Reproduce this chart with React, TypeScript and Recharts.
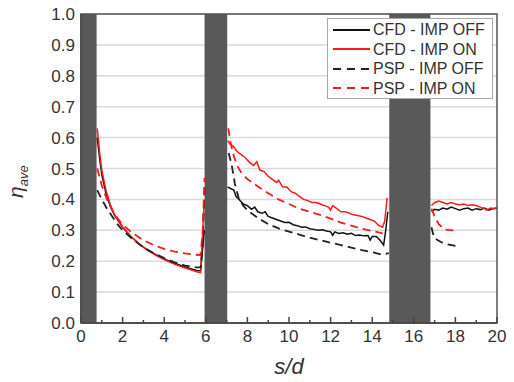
import { CartesianGrid, Legend, Line, LineChart, ReferenceArea, XAxis, YAxis } from 'recharts'

type Pt = { s: number; eta: number | null }

// s/d positions of the dark (hole) bands
const BANDS: [number, number][] = [
  [0, 0.75],
  [5.94, 7.03],
  [14.82, 16.8],
]

const X_TICKS = [0, 1, 2, 3, 4, 5, 6, 7, 8, 9, 10, 11, 12, 13, 14, 15, 16, 17, 18, 19, 20]
const Y_TICKS = [0, 0.1, 0.2, 0.3, 0.4, 0.5, 0.6, 0.7, 0.8, 0.9, 1.0]

const SERIES_NAMES = ['CFD - IMP OFF', 'CFD - IMP ON', 'PSP - IMP OFF', 'PSP - IMP ON']

const cfdOff: Pt[] = [
  { s: 0.78, eta: 0.6 }, { s: 0.9, eta: 0.53 }, { s: 1.0, eta: 0.48 }, { s: 1.2, eta: 0.42 },
  { s: 1.4, eta: 0.38 }, { s: 1.6, eta: 0.35 }, { s: 1.8, eta: 0.33 }, { s: 2.0, eta: 0.31 },
  { s: 2.4, eta: 0.28 }, { s: 2.8, eta: 0.255 }, { s: 3.2, eta: 0.236 }, { s: 3.6, eta: 0.221 },
  { s: 4.0, eta: 0.207 }, { s: 4.4, eta: 0.196 }, { s: 4.8, eta: 0.186 }, { s: 5.2, eta: 0.177 },
  { s: 5.6, eta: 0.169 }, { s: 5.75, eta: 0.17 }, { s: 5.93, eta: 0.3 },
  { s: 6.5, eta: null },
  { s: 7.05, eta: 0.44 }, { s: 7.2, eta: 0.435 }, { s: 7.35, eta: 0.43 }, { s: 7.45, eta: 0.41 },
  { s: 7.6, eta: 0.4 }, { s: 7.8, eta: 0.385 }, { s: 8.0, eta: 0.38 }, { s: 8.2, eta: 0.368 },
  { s: 8.35, eta: 0.375 }, { s: 8.5, eta: 0.36 }, { s: 8.7, eta: 0.355 }, { s: 8.85, eta: 0.36 },
  { s: 9.0, eta: 0.345 }, { s: 9.2, eta: 0.34 }, { s: 9.4, eta: 0.335 }, { s: 9.6, eta: 0.33 },
  { s: 9.8, eta: 0.325 }, { s: 10.0, eta: 0.326 }, { s: 10.2, eta: 0.318 }, { s: 10.4, eta: 0.315 },
  { s: 10.6, eta: 0.31 }, { s: 10.8, eta: 0.311 }, { s: 11.0, eta: 0.305 }, { s: 11.2, eta: 0.303 },
  { s: 11.4, eta: 0.3 }, { s: 11.6, eta: 0.302 }, { s: 11.8, eta: 0.298 }, { s: 12.0, eta: 0.295 },
  { s: 12.1, eta: 0.284 }, { s: 12.2, eta: 0.295 }, { s: 12.4, eta: 0.29 }, { s: 12.6, eta: 0.292 },
  { s: 12.8, eta: 0.287 }, { s: 13.0, eta: 0.29 }, { s: 13.2, eta: 0.283 }, { s: 13.4, eta: 0.285 },
  { s: 13.6, eta: 0.282 }, { s: 13.8, eta: 0.283 }, { s: 13.9, eta: 0.268 }, { s: 14.0, eta: 0.28 },
  { s: 14.2, eta: 0.28 }, { s: 14.4, eta: 0.266 }, { s: 14.55, eta: 0.252 }, { s: 14.65, eta: 0.3 },
  { s: 14.75, eta: 0.36 },
  { s: 15.8, eta: null },
  { s: 16.85, eta: 0.36 }, { s: 17.0, eta: 0.368 }, { s: 17.2, eta: 0.365 }, { s: 17.4, eta: 0.372 },
  { s: 17.6, eta: 0.368 }, { s: 17.8, eta: 0.375 }, { s: 18.0, eta: 0.37 }, { s: 18.2, eta: 0.365 },
  { s: 18.4, eta: 0.37 }, { s: 18.6, eta: 0.372 }, { s: 18.8, eta: 0.365 }, { s: 19.0, eta: 0.37 },
  { s: 19.2, eta: 0.367 }, { s: 19.4, eta: 0.372 }, { s: 19.6, eta: 0.365 }, { s: 19.8, eta: 0.37 },
  { s: 20.0, eta: 0.372 },
]

const cfdOn: Pt[] = [
  { s: 0.78, eta: 0.63 }, { s: 0.9, eta: 0.55 }, { s: 1.0, eta: 0.495 }, { s: 1.2, eta: 0.43 },
  { s: 1.4, eta: 0.385 }, { s: 1.6, eta: 0.352 }, { s: 1.8, eta: 0.33 }, { s: 2.0, eta: 0.31 },
  { s: 2.4, eta: 0.28 }, { s: 2.8, eta: 0.256 }, { s: 3.2, eta: 0.236 }, { s: 3.6, eta: 0.219 },
  { s: 4.0, eta: 0.205 }, { s: 4.4, eta: 0.193 }, { s: 4.8, eta: 0.183 }, { s: 5.2, eta: 0.174 },
  { s: 5.6, eta: 0.165 }, { s: 5.75, eta: 0.163 }, { s: 5.93, eta: 0.4 },
  { s: 6.5, eta: null },
  { s: 7.05, eta: 0.59 }, { s: 7.15, eta: 0.58 }, { s: 7.25, eta: 0.575 }, { s: 7.35, eta: 0.57 },
  { s: 7.5, eta: 0.555 }, { s: 7.7, eta: 0.545 }, { s: 7.9, eta: 0.535 }, { s: 8.1, eta: 0.52 },
  { s: 8.3, eta: 0.51 }, { s: 8.45, eta: 0.522 }, { s: 8.6, eta: 0.495 }, { s: 8.8, eta: 0.49 },
  { s: 9.0, eta: 0.475 }, { s: 9.2, eta: 0.465 }, { s: 9.4, eta: 0.455 }, { s: 9.5, eta: 0.462 },
  { s: 9.7, eta: 0.44 }, { s: 9.9, eta: 0.44 }, { s: 10.1, eta: 0.425 }, { s: 10.3, eta: 0.42 },
  { s: 10.5, eta: 0.41 }, { s: 10.7, eta: 0.4 }, { s: 10.9, eta: 0.396 }, { s: 11.1, eta: 0.39 },
  { s: 11.3, eta: 0.39 }, { s: 11.5, eta: 0.385 }, { s: 11.7, eta: 0.38 }, { s: 11.9, eta: 0.375 },
  { s: 12.0, eta: 0.365 }, { s: 12.1, eta: 0.38 }, { s: 12.3, eta: 0.37 }, { s: 12.5, eta: 0.36 },
  { s: 12.7, eta: 0.36 }, { s: 12.9, eta: 0.355 }, { s: 13.1, eta: 0.35 }, { s: 13.3, eta: 0.348 },
  { s: 13.5, eta: 0.345 }, { s: 13.7, eta: 0.34 }, { s: 13.9, eta: 0.335 }, { s: 14.1, eta: 0.33 },
  { s: 14.3, eta: 0.316 }, { s: 14.5, eta: 0.31 }, { s: 14.6, eta: 0.33 }, { s: 14.72, eta: 0.405 },
  { s: 15.8, eta: null },
  { s: 16.85, eta: 0.38 }, { s: 17.0, eta: 0.39 }, { s: 17.2, eta: 0.395 }, { s: 17.4, eta: 0.39 },
  { s: 17.6, eta: 0.385 }, { s: 17.8, eta: 0.39 }, { s: 18.0, eta: 0.385 }, { s: 18.2, eta: 0.383 },
  { s: 18.4, eta: 0.385 }, { s: 18.6, eta: 0.38 }, { s: 18.8, eta: 0.383 }, { s: 19.0, eta: 0.38 },
  { s: 19.2, eta: 0.375 }, { s: 19.4, eta: 0.37 }, { s: 19.5, eta: 0.365 }, { s: 19.7, eta: 0.372 },
  { s: 19.9, eta: 0.37 }, { s: 20.0, eta: 0.375 },
]

const pspOff: Pt[] = [
  { s: 0.78, eta: 0.43 }, { s: 1.0, eta: 0.4 }, { s: 1.25, eta: 0.37 }, { s: 1.5, eta: 0.345 },
  { s: 1.75, eta: 0.32 }, { s: 2.0, eta: 0.3 }, { s: 2.5, eta: 0.27 }, { s: 3.0, eta: 0.245 },
  { s: 3.5, eta: 0.226 }, { s: 4.0, eta: 0.21 }, { s: 4.5, eta: 0.196 }, { s: 5.0, eta: 0.186 },
  { s: 5.5, eta: 0.18 }, { s: 5.75, eta: 0.18 }, { s: 5.85, eta: 0.25 }, { s: 5.94, eta: 0.44 },
  { s: 6.5, eta: null },
  { s: 7.1, eta: 0.55 }, { s: 7.25, eta: 0.51 }, { s: 7.4, eta: 0.45 }, { s: 7.6, eta: 0.4 },
  { s: 7.8, eta: 0.38 }, { s: 8.0, eta: 0.365 }, { s: 8.5, eta: 0.34 }, { s: 9.0, eta: 0.32 },
  { s: 9.5, eta: 0.306 }, { s: 10.0, eta: 0.296 }, { s: 10.5, eta: 0.286 }, { s: 11.0, eta: 0.276 },
  { s: 11.5, eta: 0.268 }, { s: 12.0, eta: 0.26 }, { s: 12.5, eta: 0.252 }, { s: 13.0, eta: 0.244 },
  { s: 13.5, eta: 0.236 }, { s: 14.0, eta: 0.229 }, { s: 14.5, eta: 0.221 }, { s: 14.8, eta: 0.226 },
  { s: 15.8, eta: null },
  { s: 16.85, eta: 0.31 }, { s: 16.92, eta: 0.29 }, { s: 17.0, eta: 0.274 }, { s: 17.3, eta: 0.262 },
  { s: 17.6, eta: 0.255 }, { s: 18.1, eta: 0.248 },
]

const pspOn: Pt[] = [
  { s: 0.78, eta: 0.5 }, { s: 1.0, eta: 0.445 }, { s: 1.25, eta: 0.4 }, { s: 1.5, eta: 0.365 },
  { s: 1.75, eta: 0.34 }, { s: 2.0, eta: 0.318 }, { s: 2.5, eta: 0.29 }, { s: 3.0, eta: 0.268 },
  { s: 3.5, eta: 0.252 }, { s: 4.0, eta: 0.24 }, { s: 4.5, eta: 0.231 }, { s: 5.0, eta: 0.225 },
  { s: 5.5, eta: 0.221 }, { s: 5.75, eta: 0.22 }, { s: 5.85, eta: 0.3 }, { s: 5.94, eta: 0.47 },
  { s: 6.5, eta: null },
  { s: 7.08, eta: 0.63 }, { s: 7.2, eta: 0.58 }, { s: 7.35, eta: 0.54 }, { s: 7.5, eta: 0.51 },
  { s: 7.7, eta: 0.487 }, { s: 8.0, eta: 0.466 }, { s: 8.5, eta: 0.442 }, { s: 9.0, eta: 0.42 },
  { s: 9.5, eta: 0.4 }, { s: 10.0, eta: 0.385 }, { s: 10.5, eta: 0.37 }, { s: 11.0, eta: 0.36 },
  { s: 11.5, eta: 0.35 }, { s: 12.0, eta: 0.338 }, { s: 12.5, eta: 0.325 }, { s: 13.0, eta: 0.315 },
  { s: 13.5, eta: 0.305 }, { s: 14.0, eta: 0.298 }, { s: 14.5, eta: 0.29 },
  { s: 15.8, eta: null },
  { s: 16.85, eta: 0.37 }, { s: 17.0, eta: 0.345 }, { s: 17.2, eta: 0.32 }, { s: 17.5, eta: 0.302 },
  { s: 17.9, eta: 0.3 },
]

const FONT = '"Liberation Sans", Arial, sans-serif'
const TEXT = '#333'
const RED = '#ff1a1a'
const BLACK = '#111'

const STYLES = [
  { color: BLACK, dash: undefined as string | undefined },
  { color: RED, dash: undefined },
  { color: '#222', dash: '8 5' },
  { color: RED, dash: '8 5' },
]

function XTick(props: any) {
  const { x, y, payload } = props
  const v = payload.value as number
  const major = v % 2 === 0
  return (
    <g>
      <line x1={x} x2={x} y1={y} y2={y - (major ? 6 : 3)} stroke="#444" strokeWidth={1.5} />
      {major && (
        <text x={x} y={y + 7} dy="0.71em" textAnchor="middle" fontSize={17} fill={TEXT} fontFamily={FONT}>
          {v}
        </text>
      )}
    </g>
  )
}

function LegendBox() {
  return (
    <div style={{ fontFamily: FONT, fontSize: 16, color: TEXT, lineHeight: '19.5px', padding: '1px 0 0 0' }}>
      {SERIES_NAMES.map((name, i) => (
        <div key={name} style={{ display: 'flex', alignItems: 'center', height: 19.5 }}>
          <svg width={45} height={10} style={{ flex: 'none' }}>
            <line
              x1={5}
              x2={42}
              y1={5}
              y2={5}
              stroke={STYLES[i].color}
              strokeWidth={2}
              strokeDasharray={STYLES[i].dash ? '8 6' : undefined}
            />
          </svg>
          <span style={{ whiteSpace: 'nowrap' }}>{name}</span>
        </div>
      ))}
    </div>
  )
}

export default function App() {
  const all = [cfdOff, cfdOn, pspOff, pspOn]
  return (
    <div style={{ position: 'absolute', left: 0, top: 0, background: '#fff' }}>
      <LineChart width={514} height={382} margin={{ top: 14, right: 17, bottom: 0, left: 0 }}>
        <CartesianGrid horizontal vertical={false} stroke="#d9d9d9" strokeWidth={1.5} />
        <XAxis
          type="number"
          dataKey="s"
          domain={[0, 20]}
          ticks={X_TICKS}
          interval={0}
          allowDataOverflow
          height={59}
          tickSize={0}
          tickMargin={0}
          tickLine={false}
          tick={<XTick />}
          axisLine={{ stroke: '#444', strokeWidth: 1.5 }}
          label={{
            value: 's/d',
            position: 'insideBottom',
            offset: 8,
            style: { fontFamily: FONT, fontSize: 22, fontStyle: 'italic', fill: TEXT },
          }}
        />
        <YAxis
          type="number"
          domain={[0, 1]}
          ticks={Y_TICKS}
          interval={0}
          width={81}
          tickSize={0}
          tickMargin={6}
          tickLine={false}
          axisLine={{ stroke: '#444', strokeWidth: 1.5 }}
          tickFormatter={(v: number) => v.toFixed(1)}
          tick={{ fontSize: 17, fill: TEXT, fontFamily: FONT }}
          label={() => (
            <text
              transform="translate(23, 198) rotate(-90)"
              fontFamily={FONT}
              fontStyle="italic"
              fill={TEXT}
              fontSize={21}
            >
              η
              <tspan fontSize={13} dy={5}>
                ave
              </tspan>
            </text>
          )}
        />
        {BANDS.map(([a, b]) => (
          <ReferenceArea key={a} x1={a} x2={b} y1={0} y2={1} fill="#595959" fillOpacity={1} stroke="none" ifOverflow="visible" />
        ))}
        {/* frame: top and right edges */}
        <ReferenceArea x1={0} x2={20} y1={0} y2={1} fill="none" stroke="#555" strokeWidth={1.5} />
        {all.map((d, i) => (
          <Line
            key={SERIES_NAMES[i]}
            name={SERIES_NAMES[i]}
            data={d}
            dataKey="eta"
            type="linear"
            stroke={STYLES[i].color}
            strokeWidth={STYLES[i].dash ? 1.8 : 1.5}
            strokeDasharray={STYLES[i].dash}
            dot={false}
            activeDot={false}
            connectNulls={false}
            isAnimationActive={false}
          />
        ))}
        <Legend
          layout="vertical"
          align="center"
          verticalAlign="middle"
          content={<LegendBox />}
          wrapperStyle={{
            left: 327,
            top: 18,
            width: 166,
            height: 81,
            background: '#fff',
            border: '1px solid #a8a8a8',
            boxSizing: 'border-box',
          }}
        />
      </LineChart>
    </div>
  )
}
